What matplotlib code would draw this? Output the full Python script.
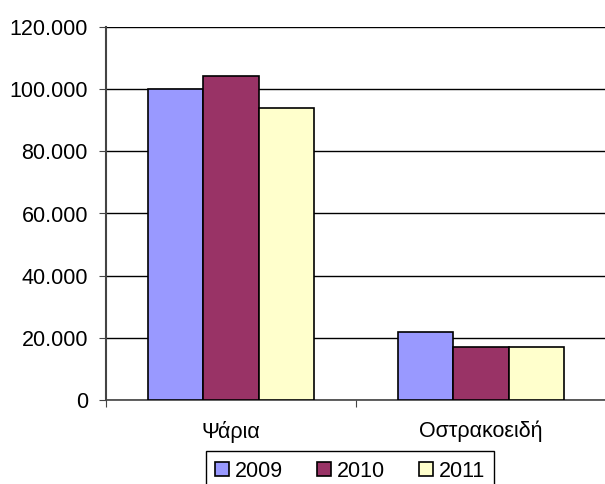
import numpy as np
import matplotlib.pyplot as plt
from matplotlib.ticker import FuncFormatter

plt.rcParams['font.family'] = ['Liberation Sans', 'DejaVu Sans']

categories = ['Ψάρια', 'Οστρακοειδή']
years = ['2009', '2010', '2011']
values_2009 = [100000, 22000]
values_2010 = [104300, 16900]
values_2011 = [94100, 16900]
colors = ['#9999FF', '#993366', '#FFFFCC']

series = [values_2009, values_2010, values_2011]

fig = plt.figure(figsize=(6.05, 4.84), dpi=100)
ax = fig.add_axes([106/605, 1 - 400/484, 500/605, 373/484])

x = np.arange(len(categories))
w = 1 / 4.5
for i, (vals, year) in enumerate(zip(series, years)):
    ax.bar(x + (i - 1) * w, vals, width=w, color=colors[i],
           edgecolor='black', linewidth=1.2, label=year, zorder=3)

ax.set_ylim(0, 120000)
ax.set_xlim(-0.5, -0.5 + 499/252)
ax.set_yticks(np.arange(0, 120001, 20000))
ax.yaxis.set_major_formatter(FuncFormatter(lambda v, p: f'{int(v):,}'.replace(',', '.')))
ax.grid(axis='y', color='black', linewidth=1.0, zorder=0)

ax.set_xticks([-0.5, 0.5, 1.5], minor=False)
ax.set_xticklabels([])
ax.set_xticks(x, minor=True)
ax.set_xticklabels(categories, minor=True)
ax.tick_params(axis='x', which='minor', length=0, pad=15, labelsize=15.5)
ax.tick_params(axis='x', which='major', length=5, direction='out', color='#444444')
ax.tick_params(axis='y', length=5, direction='out', labelsize=15.5, color='#444444', pad=8)

for s in ['top', 'right']:
    ax.spines[s].set_visible(False)
ax.spines['left'].set_color('#444444')
ax.spines['left'].set_linewidth(1.5)
ax.spines['bottom'].set_color('#444444')
ax.spines['bottom'].set_linewidth(1.2)

handles, labels = ax.get_legend_handles_labels()
leg = fig.legend(handles, labels, loc='upper center', bbox_to_anchor=(350/605, 1 - 451/484),
                 ncol=3, fancybox=False, edgecolor='black', framealpha=1,
                 fontsize=15.5, handlelength=0.65, handleheight=0.65, handletextpad=0.25,
                 columnspacing=1.6, borderpad=0.45, borderaxespad=0)
leg.get_frame().set_linewidth(1.0)

fig.savefig('out.png', dpi=100)
